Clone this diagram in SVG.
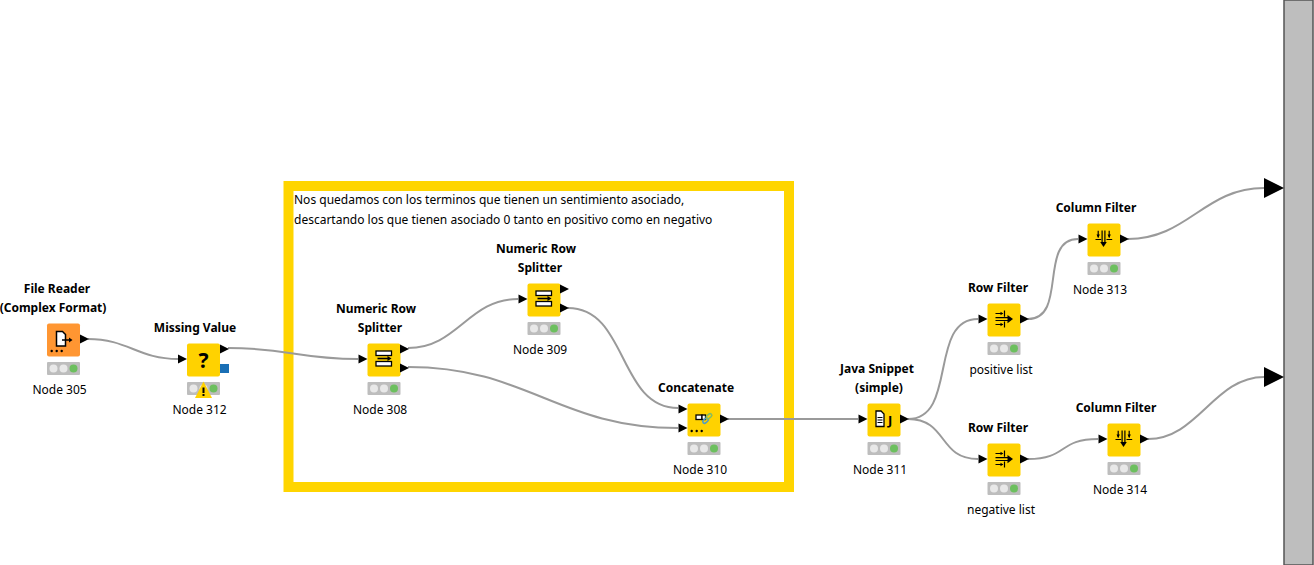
<svg xmlns="http://www.w3.org/2000/svg" xmlns:xlink="http://www.w3.org/1999/xlink" width="1314" height="565" viewBox="0 0 1314 565">
<style>
text{font-family:"Noto Sans","Open Sans","Liberation Sans",sans-serif;font-size:12px;fill:#000}
.t{font-weight:700;text-anchor:middle}
.n{text-anchor:middle}
.c{fill:none;stroke:#9a9a9a;stroke-width:2}
.body{fill:#ffd200}
.src{fill:#ff9632}
.tl{fill:#bdbdbd}
.off{fill:#e8e8e8}
.on{fill:#6cbf5e}
.p{fill:#000}
.i{fill:none;stroke:#000;stroke-width:1.2}
.if{fill:#fff;stroke:#000;stroke-width:1.3}
.a{fill:#000}
</style>
<defs>
<g id="lights">
<rect class="tl" x="0" y="0" width="33" height="13" rx="1"/>
<circle class="off" cx="6.500" cy="6.500" r="4"/><circle class="off" cx="16.500" cy="6.500" r="4"/><circle class="on" cx="26.500" cy="6.500" r="4"/>
</g>
<path id="pt" class="p" d="M0,-4.500L9,0L0,4.500Z"/>
<g id="icon-split">
<rect class="if" x="8.500" y="7.500" width="15.500" height="4.500"/>
<rect class="if" x="8.500" y="18" width="15.500" height="4.500"/>
<path class="i" style="stroke-width:1.600" d="M10,15H21"/><path class="a" d="M20,12.500L24,15L20,17.500Z"/>
</g>
<g id="icon-row">
<path class="i" d="M8,10H15M8,21H15M17,7V13.300M17,18V24"/>
<path class="a" d="M13,8.300L15.800,10L13,11.700ZM13,19.300L15.800,21L13,22.700Z"/>
<path class="i" d="M8,14.200H21M8,17H21"/>
<path class="a" d="M20,11.500L25.500,15.600L20,19.700Z"/>
</g>
<g id="icon-col">
<path class="i" d="M10.700,7.300V14M21.700,7.300V14M8,16H13.700M19,16H24.700"/>
<path class="a" d="M9,11L10.700,14.300L12.400,11ZM20,11L21.700,14.300L23.400,11Z"/>
<path class="i" d="M14.600,7V19M17.400,7V19"/>
<path class="a" d="M12.700,18.500L16,23.500L19.300,18.500Z"/>
</g>
<g id="dots"><circle class="a" cx="4.700" cy="27.500" r="1.200"/><circle class="a" cx="9.700" cy="27.500" r="1.200"/><circle class="a" cx="14.700" cy="27.500" r="1.200"/></g>
</defs>

<rect id="annotation-frame" x="288.500" y="186" width="500.500" height="301" fill="#fff" stroke="#ffd500" stroke-width="10"/>
<text x="294" y="204">Nos quedamos con los terminos que tienen un sentimiento asociado,</text>
<text x="294" y="224">descartando los que tienen asociado 0 tanto en positivo como en negativo</text>

<g id="connectors">
<path class="c" d="M88,339C128,339 138,359 178,359"/>
<path class="c" d="M228,348C288,348 298,359 358,359"/>
<path class="c" d="M408,348C458,348 468,299 518,299"/>
<path class="c" d="M408,367C528,367 558,428 678,428"/>
<path class="c" d="M568,308C628,308 618,408 678,408"/>
<path class="c" d="M728,419H858"/>
<path class="c" d="M908,419C958,419 928,319 978,319"/>
<path class="c" d="M908,419C948,419 938,459 978,459"/>
<path class="c" d="M1028,319C1068,319 1038,239 1078,239"/>
<path class="c" d="M1028,459C1068,459 1058,439 1098,439"/>
<path class="c" d="M1128,239C1188,239 1204,188 1264,188"/>
<path class="c" d="M1148,439C1198,439 1214,377 1264,377"/>
</g>

<g id="node-305">
<text class="t" x="57" y="293">File Reader</text><text class="t" x="53" y="312">(Complex Format)</text>
<rect class="src" x="47" y="323.500" width="33" height="33" rx="2"/>
<path class="if" style="stroke-width:1.500" d="M56.500,331.500H62.500L65.500,334.500V346H56.500Z"/><path class="i" style="stroke-width:1.500" d="M62,340H70"/><path class="a" d="M69,337.500L72.500,340L69,342.500Z"/>
<use xlink:href="#dots" href="#dots" x="47" y="323.500"/>
<use xlink:href="#pt" href="#pt" x="80" y="339"/>
<use xlink:href="#lights" href="#lights" x="47" y="362"/>
<text class="n" x="59.500" y="394">Node 305</text>
</g>

<g id="node-312">
<text class="t" x="195" y="332">Missing Value</text>
<rect class="body" x="187" y="343.500" width="33" height="33" rx="2"/>
<text x="203.500" y="367.500" style="font-size:21px;font-weight:700;text-anchor:middle">?</text>
<use xlink:href="#pt" href="#pt" x="178" y="359"/>
<use xlink:href="#pt" href="#pt" x="220" y="349"/>
<rect x="220" y="364" width="9" height="9" fill="#1a6fb5"/>
<use xlink:href="#lights" href="#lights" x="187" y="382"/>
<path d="M203.500,381.500L212,398H195Z" fill="#ffd200"/>
<rect x="202.500" y="387.500" width="2" height="5.500" fill="#000"/><rect x="202.500" y="394" width="2" height="2" fill="#000"/>
<text class="n" x="199.500" y="414">Node 312</text>
</g>

<g id="node-308">
<text class="t" x="376" y="313">Numeric Row</text><text class="t" x="380" y="332">Splitter</text>
<rect class="body" x="367.500" y="343.500" width="33" height="33" rx="2"/>
<use xlink:href="#icon-split" href="#icon-split" x="367.500" y="343.500"/>
<use xlink:href="#pt" href="#pt" x="358.500" y="359"/>
<use xlink:href="#pt" href="#pt" x="400" y="349"/><use xlink:href="#pt" href="#pt" x="400" y="368"/>
<use xlink:href="#lights" href="#lights" x="367.500" y="382"/>
<text class="n" x="380" y="414">Node 308</text>
</g>

<g id="node-309">
<text class="t" x="536" y="253">Numeric Row</text><text class="t" x="540" y="272">Splitter</text>
<rect class="body" x="527.500" y="283.500" width="33" height="33" rx="2"/>
<use xlink:href="#icon-split" href="#icon-split" x="527.500" y="283.500"/>
<use xlink:href="#pt" href="#pt" x="518.500" y="299"/>
<use xlink:href="#pt" href="#pt" x="560" y="289"/><use xlink:href="#pt" href="#pt" x="560" y="308"/>
<use xlink:href="#lights" href="#lights" x="527.500" y="322"/>
<text class="n" x="540" y="354">Node 309</text>
</g>

<g id="node-310">
<text class="t" x="696" y="392">Concatenate</text>
<rect class="body" x="687.500" y="403.500" width="33" height="33" rx="2"/>
<rect class="if" x="696" y="415" width="6" height="4.500"/><rect class="if" x="702" y="415" width="3.500" height="4.500"/>
<rect x="702.500" y="419" width="6" height="3.500" rx="1.700" transform="rotate(-40 705.500 420.700)" fill="none" stroke="#4f9cc4" stroke-width="1.600"/>
<rect x="706" y="414.500" width="6" height="3.500" rx="1.700" transform="rotate(-40 709 416.200)" fill="none" stroke="#86bd62" stroke-width="1.600"/>
<use xlink:href="#dots" href="#dots" x="687" y="403.500"/>
<use xlink:href="#pt" href="#pt" x="678.500" y="409"/><use xlink:href="#pt" href="#pt" x="678.500" y="428"/>
<use xlink:href="#pt" href="#pt" x="720" y="419"/>
<use xlink:href="#lights" href="#lights" x="687.500" y="442"/>
<text class="n" x="700" y="474">Node 310</text>
</g>

<g id="node-311">
<text class="t" x="877" y="373">Java Snippet</text><text class="t" x="879" y="392">(simple)</text>
<rect class="body" x="867.500" y="403.500" width="33" height="33" rx="2"/>
<path class="if" d="M876,411H881L884,414V426.500H876Z"/><path class="i" style="stroke-width:1" d="M877.500,417.500H882.500M877.500,420H882.500M877.500,422.500H882.500"/>
<text x="888" y="424.500" style="font-size:13px;font-weight:700">J</text>
<use xlink:href="#pt" href="#pt" x="858.500" y="419"/>
<use xlink:href="#pt" href="#pt" x="900" y="419"/>
<use xlink:href="#lights" href="#lights" x="867.500" y="442"/>
<text class="n" x="880" y="474">Node 311</text>
</g>

<g id="node-row-positive">
<text class="t" x="998" y="292">Row Filter</text>
<rect class="body" x="987.500" y="303.500" width="33" height="33" rx="2"/>
<use xlink:href="#icon-row" href="#icon-row" x="987.500" y="303.500"/>
<use xlink:href="#pt" href="#pt" x="978.500" y="319"/><use xlink:href="#pt" href="#pt" x="1020" y="319"/>
<use xlink:href="#lights" href="#lights" x="987.500" y="342"/>
<text class="n" x="1001" y="374">positive list</text>
</g>

<g id="node-row-negative">
<text class="t" x="998" y="432">Row Filter</text>
<rect class="body" x="987.500" y="443.500" width="33" height="33" rx="2"/>
<use xlink:href="#icon-row" href="#icon-row" x="987.500" y="443.500"/>
<use xlink:href="#pt" href="#pt" x="978.500" y="459"/><use xlink:href="#pt" href="#pt" x="1020" y="459"/>
<use xlink:href="#lights" href="#lights" x="987.500" y="482"/>
<text class="n" x="1001" y="514">negative list</text>
</g>

<g id="node-313">
<text class="t" x="1096" y="212">Column Filter</text>
<rect class="body" x="1087.500" y="223.500" width="33" height="33" rx="2"/>
<use xlink:href="#icon-col" href="#icon-col" x="1087.500" y="223.500"/>
<use xlink:href="#pt" href="#pt" x="1078.500" y="239"/><use xlink:href="#pt" href="#pt" x="1120" y="239"/>
<use xlink:href="#lights" href="#lights" x="1087.500" y="262"/>
<text class="n" x="1100" y="294">Node 313</text>
</g>

<g id="node-314">
<text class="t" x="1116" y="412">Column Filter</text>
<rect class="body" x="1107.500" y="423.500" width="33" height="33" rx="2"/>
<use xlink:href="#icon-col" href="#icon-col" x="1107.500" y="423.500"/>
<use xlink:href="#pt" href="#pt" x="1098.500" y="439"/><use xlink:href="#pt" href="#pt" x="1140" y="439"/>
<use xlink:href="#lights" href="#lights" x="1107.500" y="462"/>
<text class="n" x="1120" y="494">Node 314</text>
</g>

<g id="output-bar">
<rect x="1284" y="0" width="29" height="565" fill="#bebebe" stroke="#555" stroke-width="1.500"/>
<path class="a" d="M1264,178L1284,188L1264,198Z"/>
<path class="a" d="M1264,367L1284,377L1264,387Z"/>
</g>
</svg>
